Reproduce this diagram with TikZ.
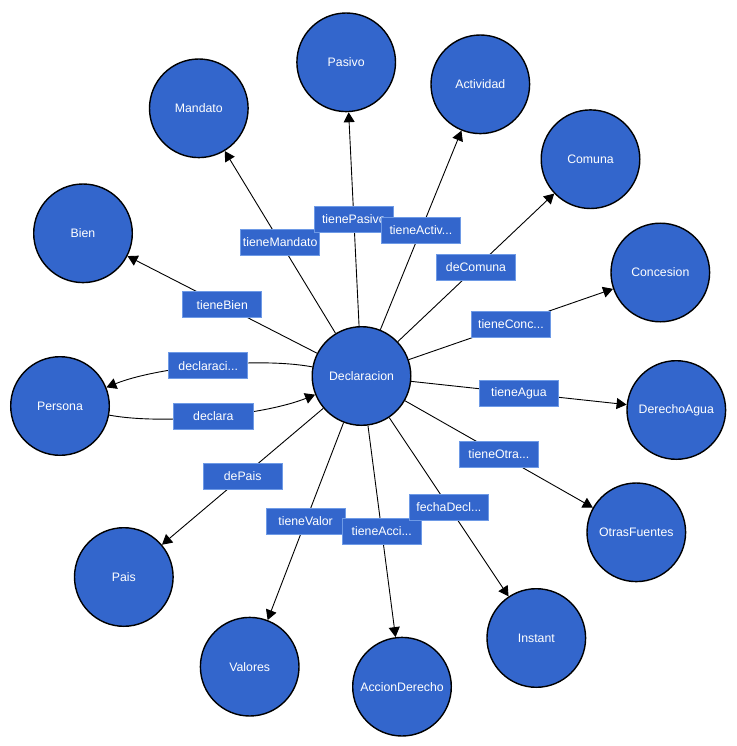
\documentclass[tikz,border=0pt]{standalone}
\usepackage{fontspec}
\setmainfont{Liberation Sans}
\usetikzlibrary{arrows.meta}
\definecolor{nodeblue}{HTML}{3366CC}
\definecolor{lblborder}{HTML}{6E9AE6}
\begin{document}
\begin{tikzpicture}[x=1pt,y=-1pt,
  concept/.style={circle, draw=black, line width=1.4pt, fill=nodeblue,
    minimum size=98.6pt, inner sep=0pt, text=white,
    font=\fontsize{12.3}{14}\selectfont},
  lbl/.style={rectangle, draw=lblborder, line width=0.8pt, fill=nodeblue,
    minimum width=79.2pt, minimum height=26.2pt, inner sep=0pt, text=white,
    font=\fontsize{12.3}{14}\selectfont},
  rel/.style={draw=black, line width=0.9pt, -{Triangle[length=10pt,width=11pt]}},
]
\useasboundingbox (0,0) rectangle (736,746);

\node[concept] (decl)   at (361.5,376) {Declaracion};
\node[concept] (pasivo) at (346.2,62.3) {Pasivo};
\node[concept] (activ)  at (480.3,84.3) {Actividad};
\node[concept] (mand)   at (198.8,108.3) {Mandato};
\node[concept] (comuna) at (590.5,159.2) {Comuna};
\node[concept] (bien)   at (83,233.3) {Bien};
\node[concept] (conc)   at (660.3,272.5) {Concesion};
\node[concept] (pers)   at (60,406) {Persona};
\node[concept] (agua)   at (676.3,410) {DerechoAgua};
\node[concept] (otras)  at (636.3,532.3) {OtrasFuentes};
\node[concept] (pais)   at (123.8,577) {Pais};
\node[concept] (inst)   at (536.3,638) {Instant};
\node[concept] (valor)  at (249.7,666.7) {Valores};
\node[concept] (accion) at (402,686.7) {AccionDerecho};

\draw[rel] (decl) -- node[lbl] (lmand) {tieneMandato} (mand);
\draw[rel] (decl) -- node[lbl] (lpas) {tienePasivo} (pasivo);
\draw[rel] (decl) -- node[lbl] (lact) {tieneActiv...} (activ);
\draw[rel] (decl) -- node[lbl] (lcom) {deComuna} (comuna);
\draw[rel] (decl) -- node[lbl] (lbien) {tieneBien} (bien);
\draw[rel] (decl) -- node[lbl] (lconc) {tieneConc...} (conc);
\draw[rel] (decl) .. controls (258.1,356.8) and (157.6,366.8) .. node[lbl,pos=0.5] (ldcl) {declaraci...} (pers);
\draw[rel] (pers) .. controls (163.5,425.2) and (264,415.2) .. node[lbl,pos=0.5] (ldec) {declara} (decl);
\draw[rel] (decl) -- node[lbl] (lagua) {tieneAgua} (agua);
\draw[rel] (decl) -- node[lbl] (lotra) {tieneOtra...} (otras);
\draw[rel] (decl) -- node[lbl] (lpais) {dePais} (pais);
\draw[rel] (decl) -- node[lbl] (lval) {tieneValor} (valor);
\draw[rel] (decl) -- node[lbl] (lacc) {tieneAcci...} (accion);
\draw[rel] (decl) -- node[lbl] (lfec) {fechaDecl...} (inst);
\end{tikzpicture}
\end{document}
